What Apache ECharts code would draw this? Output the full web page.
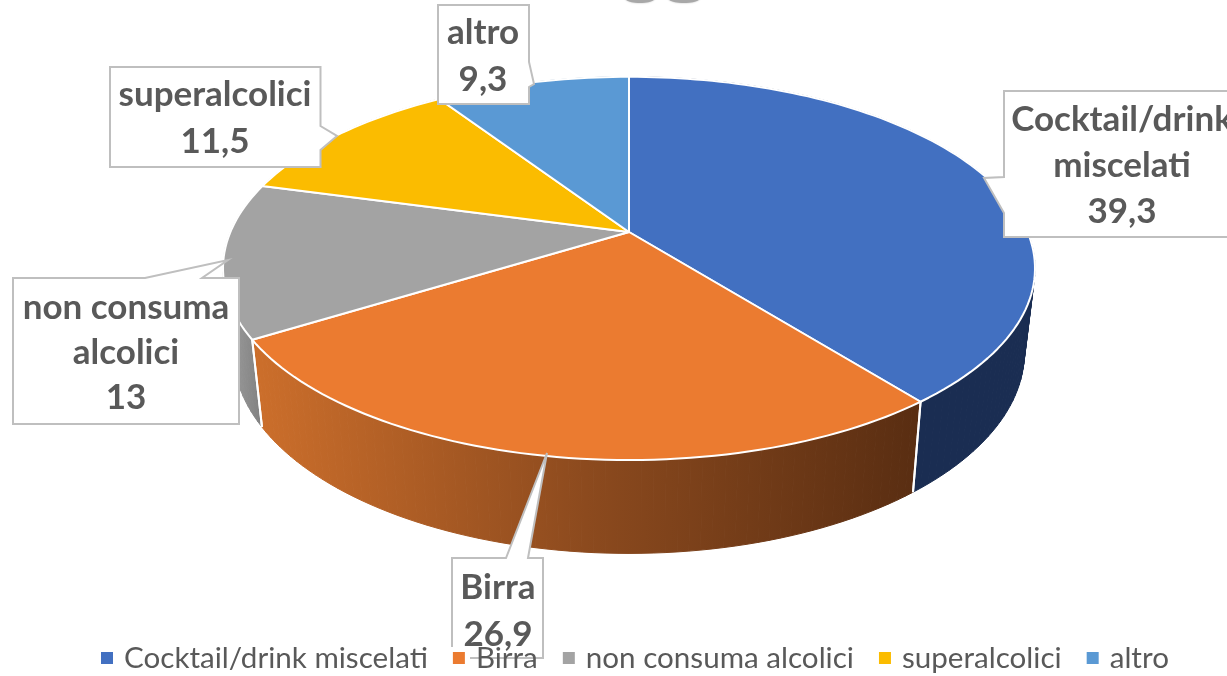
<!DOCTYPE html>
<html>
<head>
<meta charset="utf-8">
<style>html,body{margin:0;padding:0;background:#fff}#main{width:1227px;height:676px}</style>
<script src="https://cdn.jsdelivr.net/npm/echarts@6/dist/echarts.min.js"></script>
</head>
<body>
<div id="main"></div>
<script>
// data
var categories = ['Cocktail/drink miscelati', 'Birra', 'non consuma alcolici', 'superalcolici', 'altro'];
var values = [39.3, 26.9, 13, 11.5, 9.3];
var labelLines = [['Cocktail/drink', 'miscelati'], ['Birra'], ['non consuma', 'alcolici'], ['superalcolici'], ['altro']];

var colors = ['#4270c1', '#eb7b30', '#a3a3a3', '#fbbc00', '#5a99d4'];
var FONT = 'Lato, "Open Sans", sans-serif';
var TEXT = '#595959', BOX = '#bfbfbf';

// perspective of the disc: the pie centre sits above the middle of the ellipse
var cx = 629, cy = 232, a = 398.6, b = 184.7, k = 0.19;
var bottomX = 0.974, bottomY = 1.05, bottomDy = 82;

function project(pct, lower) {
  var t = pct / 100 * Math.PI * 2;
  var u = Math.sin(t), v = -Math.cos(t), w = 1 - k * v;
  var x = a * u / w, y = b * v / w;
  return lower ? [cx + x * bottomX, cy + bottomDy + y * bottomY] : [cx + x, cy + y];
}

var orangeWall = {type: 'linear', x: 261, y: 0, x2: 912, y2: 0, global: true, colorStops: [
  {offset: 0, color: '#cb6e2b'}, {offset: 0.5, color: '#8c4a1e'}, {offset: 1, color: '#5a2e12'}]};
var grayWall = {type: 'linear', x: 224, y: 0, x2: 262, y2: 0, global: true, colorStops: [
  {offset: 0, color: '#a0a0a0'}, {offset: 1, color: '#808080'}]};
var wallColors = ['#1a2d52', orangeWall, grayWall, '#8a6700', '#2f5f8f'];

// callout boxes, one per slice
var callouts = [
  {pts: [[1004, 91], [1240, 91], [1240, 237], [1004, 237], [1004, 213], [984, 178], [1004, 177]], tx: 1122, ty: [120, 166, 212]},
  {pts: [[452, 558], [506, 558], [547, 453], [528, 558], [543, 558], [543, 658], [452, 658]], tx: 498, ty: [588, 635],
    line: [[452, 647], [452, 558], [506, 558], [547, 453], [528, 558], [543, 558], [543, 658], [470, 658]]},
  {pts: [[13, 278], [145, 278], [228, 260], [202, 278], [239, 278], [239, 424], [13, 424]], tx: 126, ty: [308, 353, 398]},
  {pts: [[110, 67], [320.5, 67], [320.5, 126], [337, 136], [320.5, 150], [320.5, 167], [110, 167]], tx: 215, ty: [95, 142]},
  {pts: [[438, 5], [529, 5], [529, 62], [534, 84], [529, 87], [529, 104], [438, 104]], tx: 483, ty: [33, 80]}
];

function renderSlice(params, api) {
  var i = params.seriesIndex;
  var start = api.value(0), end = api.value(1);
  var children = [];
  var steps = Math.max(2, Math.ceil((end - start) / 0.4));
  var face = [[cx, cy]];
  for (var s = 0; s <= steps; s++) {
    var p = start + (end - start) * s / steps;
    face.push(project(p));
    if (s < steps) {
      var q = start + (end - start) * (s + 1) / steps;
      children.push({
        type: 'polygon', z2: 1,
        shape: {points: [project(p), project(q), project(q, true), project(p, true)]},
        style: {fill: wallColors[i], stroke: wallColors[i], lineWidth: 1}
      });
    }
  }
  [start, end].forEach(function (p) {
    children.push({
      type: 'polyline', z2: 2,
      shape: {points: [project(p), project(p, true)]},
      style: {fill: null, stroke: '#fff', lineWidth: 2}
    });
  });
  children.push({
    type: 'polygon', z2: 3,
    shape: {points: face},
    style: {fill: colors[i], stroke: '#fff', lineWidth: 2, lineJoin: 'round'}
  });

  var c = callouts[i];
  children.push({
    type: 'polygon', z2: 5,
    shape: {points: c.pts},
    style: c.line ? {fill: '#fff'} : {fill: '#fff', stroke: BOX, lineWidth: 2}
  });
  if (c.line) {
    children.push({
      type: 'polyline', z2: 6,
      shape: {points: c.line},
      style: {fill: null, stroke: BOX, lineWidth: 2}
    });
  }
  var lines = labelLines[i].concat(String(values[i]).replace('.', ','));
  lines.forEach(function (t, n) {
    children.push({
      type: 'text', z2: 7,
      style: {
        text: t, x: c.tx, y: c.ty[n], fill: TEXT,
        font: 'bold 35px ' + FONT, textAlign: 'center', textVerticalAlign: 'middle'
      }
    });
  });
  return {type: 'group', children: children};
}

var running = 0;
var series = categories.map(function (name, i) {
  var start = running;
  running += values[i];
  return {
    type: 'custom',
    name: name,
    coordinateSystem: 'none',
    silent: true,
    renderItem: renderSlice,
    data: [[start, running]]
  };
});

var chart = echarts.init(document.getElementById('main'));
chart.setOption({
  animation: false,
  backgroundColor: '#fff',
  color: colors,
  legend: {
    data: categories,
    left: 96,
    top: 638,
    selectedMode: false,
    icon: 'rect',
    itemWidth: 12,
    itemHeight: 12,
    itemGap: 25,
    textStyle: {color: TEXT, fontFamily: FONT, fontSize: 29.6, padding: [0, 0, 0, 6]}
  },
  // cut-off smudges along the top edge
  graphic: [
    {type: 'ellipse', shape: {cx: 640, cy: -2, rx: 15, ry: 5}, style: {fill: '#a8a8a8', shadowBlur: 2, shadowColor: '#bbb'}, z: 1},
    {type: 'ellipse', shape: {cx: 684, cy: -2, rx: 16, ry: 5}, style: {fill: '#a8a8a8', shadowBlur: 2, shadowColor: '#bbb'}, z: 1}
  ],
  series: series
});
</script>
</body>
</html>
